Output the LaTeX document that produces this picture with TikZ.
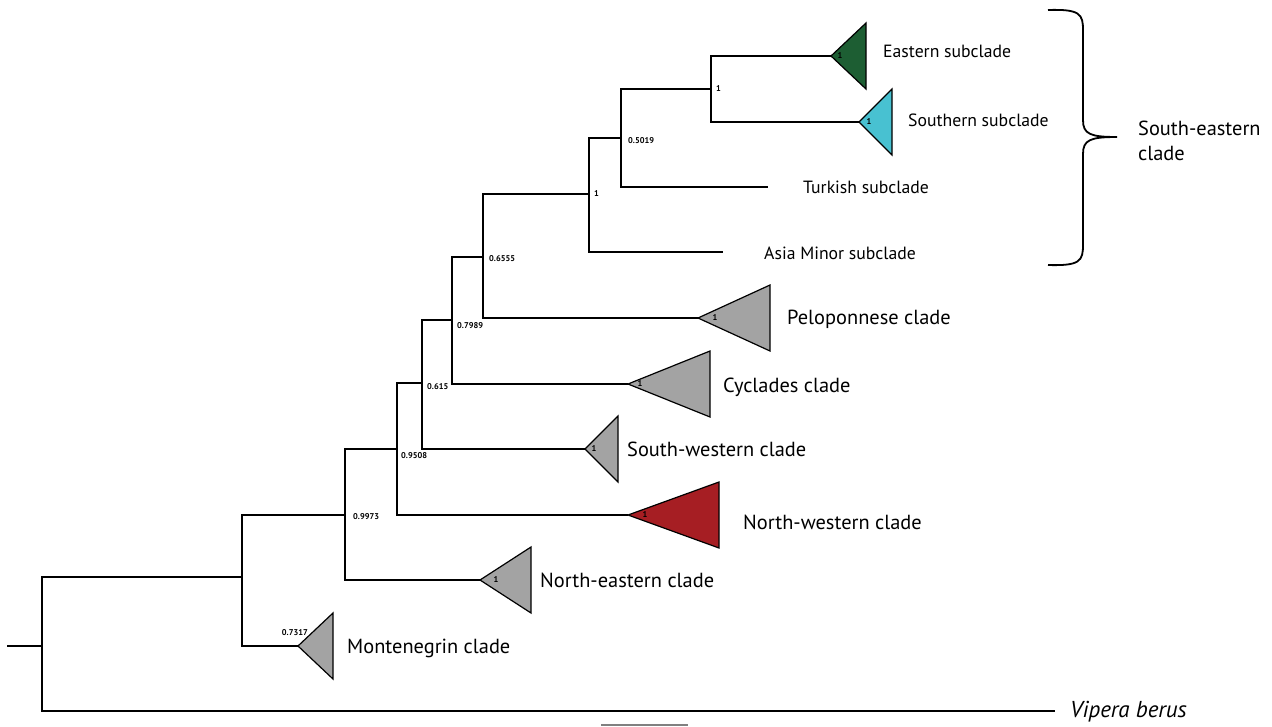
\documentclass[tikz,border=0pt]{standalone}
\usepackage{fontspec}
\setmainfont{PT Sans}
\usetikzlibrary{calc}
\definecolor{eastgreen}{RGB}{29,94,51}
\definecolor{southcyan}{RGB}{72,193,209}
\definecolor{westred}{RGB}{166,30,35}
\definecolor{cladegrey}{RGB}{163,163,163}
\def\clade[#1](#2)(#3){\draw[#1] (#2) -- ++(#3,-33) -- ++(0,66) -- cycle;}
\tikzset{
  branch/.style={line width=1.8pt, line join=miter},
  tri/.style={line width=1.2pt, line join=miter},
  support/.style={font=\fontsize{8.4}{9}\selectfont\bfseries, inner sep=0pt},
  biglab/.style={font=\fontsize{20.4}{25}\selectfont, inner sep=0pt, anchor=west},
  smalllab/.style={font=\fontsize{17.7}{20}\selectfont, inner sep=0pt, anchor=west}
}

\begin{document}
\begin{tikzpicture}[x=1pt, y=-1pt]
			%%%%% START %%%%%
			\useasboundingbox (0,0) rectangle (1272,726);
			
			% internal nodes
			\coordinate (stub) at (7,646);
			\coordinate (root) at (42,646);
			\coordinate (n1) at (242,577);
			\coordinate (n2) at (345,515);
			\coordinate (n3) at (397,449);
			\coordinate (n4) at (422,383);
			\coordinate (n5) at (452,320);
			\coordinate (n6) at (483,257);
			\coordinate (n7) at (589,194);
			\coordinate (n8) at (621,138);
			\coordinate (n9) at (711,89);
			
			% tips
			\coordinate (vip) at (1055,711);
			\coordinate (mon) at (298,646);
			\coordinate (ne) at (480,580);
			\coordinate (nw) at (628,515);
			\coordinate (sw) at (585,449);
			\coordinate (cyc) at (628,384);
			\coordinate (pel) at (698,318);
			\coordinate (asia) at (723,252);
			\coordinate (turk) at (768,187);
			\coordinate (east) at (831,56);
			\coordinate (south) at (859,122);
			
			\draw[line width=1.2pt] (stub) -- (root);
			\draw[branch] (root) |- (n1);
			\draw[branch] (root) |- (vip);
			\draw[branch] (n1) |- (n2);
			\draw[branch] (n1) |- (mon);
			\draw[branch] (n2) |- (n3);
			\draw[branch] (n2) |- (ne);
			\draw[branch] (n3) |- (n4);
			\draw[branch] (n3) |- (nw);
			\draw[branch] (n4) |- (n5);
			\draw[branch] (n4) |- (sw);
			\draw[branch] (n5) |- (n6);
			\draw[branch] (n5) |- (cyc);
			\draw[branch] (n6) |- (n7);
			\draw[branch] (n6) |- (pel);
			\draw[branch] (n7) |- (n8);
			\draw[branch] (n7) |- (asia);
			\draw[branch] (n8) |- (n9);
			\draw[branch] (n8) |- (turk);
			\draw[branch] (n9) |- (east);
			\draw[branch] (n9) |- (south);
			
			% collapsed clades
			\clade[tri, fill=cladegrey](mon)(35);
			\clade[tri, fill=cladegrey](ne)(51);
			\clade[tri, fill=westred](nw)(91);
			\clade[tri, fill=cladegrey](sw)(33);
			\clade[tri, fill=cladegrey](cyc)(82);
			\clade[tri, fill=cladegrey](pel)(72);
			\clade[tri, fill=eastgreen](east)(35);
			\clade[tri, fill=southcyan](south)(33);
			
			% support values
			\node[support, anchor=east] (s1) at (308,633) {0.7317};
			\node[support, anchor=west] (s2) at (353,517) {0.9973};
			\node[support, anchor=west] (s3) at (401,456) {0.9508};
			\node[support, anchor=west] (s4) at (427,387) {0.615};
			\node[support, anchor=west] (s5) at (457,326) {0.7989};
			\node[support, anchor=west] (s6) at (489,259) {0.6555};
			\node[support, anchor=west] (s7) at (594,194) {1};
			\node[support, anchor=west] (s8) at (628,141) {0.5019};
			\node[support, anchor=west] (s9) at (716,89) {1};
			\node[support] (cne) at (496,580) {1};
			\node[support] (cnw) at (645,515) {1};
			\node[support] (csw) at (594,449) {1};
			\node[support] (ccyc) at (640,384) {1};
			\node[support] (cpel) at (715,318) {1};
			\node[support] (ceast) at (840,56) {1};
			\node[support] (csouth) at (869,122) {1};
			
			% clade names
			\node[biglab] (lmon) at (347,648) {Montenegrin clade};
			\node[biglab] (lne) at (540,580) {North-eastern clade};
			\node[biglab] (lnw) at (743,522) {North-western clade};
			\node[biglab] (lsw) at (627,449) {South-western clade};
			\node[biglab] (lcyc) at (723,387) {Cyclades clade};
			\node[biglab] (lpel) at (787,319) {Peloponnese clade};
			\node[smalllab] (lasia) at (764,253) {Asia Minor subclade};
			\node[smalllab] (lturk) at (803,187) {Turkish subclade};
			\node[smalllab] (lsouth) at (908,120) {Southern subclade};
			\node[smalllab] (least) at (883,51) {Eastern subclade};
			\node[biglab, font=\fontsize{23}{25}\selectfont\itshape] (lvip) at (1070,712) {Vipera berus};
			
			% brace
			\coordinate (btop) at (1048,10);
			\coordinate (bbot) at (1048,265);
			\coordinate (btip) at (1117,137);
			\draw[line width=1.8pt] (btop) .. controls (1080,9) and (1083,14) .. (1083,30)
			  -- (1083,120) .. controls (1083,134) and (1090,137) .. (btip)
			  .. controls (1090,137) and (1083,140) .. (1083,154)
			  -- (1083,245) .. controls (1083,261) and (1080,266) .. (bbot);
			\node[biglab, align=left] (lse) at (1138,141) {South-eastern\\clade};
			
			% scale bar
			\coordinate (bar1) at (601,725);
			\coordinate (bar2) at (688,725);
			\draw[line width=1.4pt, color=black!50] (bar1) -- (bar2);
			%%%%% END %%%%%
\end{tikzpicture}
\end{document}
